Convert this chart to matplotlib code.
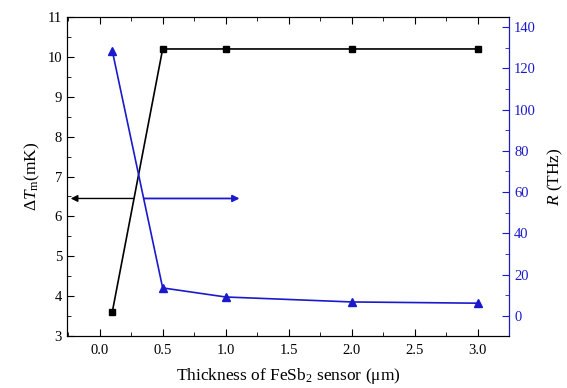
import matplotlib
matplotlib.use("Agg")
import matplotlib.pyplot as plt
from matplotlib.ticker import MultipleLocator

plt.rcParams['font.family'] = ['Liberation Serif', 'DejaVu Serif']
plt.rcParams['mathtext.fontset'] = 'custom'
plt.rcParams['mathtext.rm'] = 'Liberation Serif'
plt.rcParams['mathtext.it'] = 'Liberation Serif:italic'

# data
thickness = [0.1, 0.5, 1.0, 2.0, 3.0]
delta_t = [3.6, 10.2, 10.2, 10.2, 10.2]
r_thz = [128.5, 13.6, 9.2, 6.8, 6.2]
blue = '#1a1acc'

fig = plt.figure(figsize=(5.67, 3.88), dpi=100)
ax = fig.add_axes([0.118, 0.134, 0.78, 0.822])
ax2 = ax.twinx()

ax.plot(thickness, delta_t, color='black', marker='s', ms=4.5, lw=1.2)
ax2.plot(thickness, r_thz, color=blue, marker='^', ms=5.5, lw=1.2)

ax.set_xlim(-0.26, 3.25)
ax.set_ylim(3, 11)
ax2.set_ylim(-9.7, 144.8)

ax.xaxis.set_major_locator(MultipleLocator(0.5))
ax.xaxis.set_minor_locator(MultipleLocator(0.25))
ax.yaxis.set_major_locator(MultipleLocator(1))
ax.yaxis.set_minor_locator(MultipleLocator(0.5))
ax2.yaxis.set_major_locator(MultipleLocator(20))
ax2.yaxis.set_minor_locator(MultipleLocator(10))
ax.xaxis.set_major_formatter(matplotlib.ticker.FormatStrFormatter('%.1f'))

ax.tick_params(axis='x', which='both', direction='in', top=True, labelsize=10.5, pad=6)
ax.tick_params(axis='y', which='both', direction='in', right=False, labelsize=10.5)
ax.tick_params(which='major', length=5)
ax.tick_params(which='minor', length=3)
ax2.tick_params(axis='y', which='both', direction='in', colors=blue, labelsize=10.5)
ax2.tick_params(which='major', length=5)
ax2.tick_params(which='minor', length=3)
ax2.spines['right'].set_color(blue)

ax.set_xlabel('Thickness of FeSb$_2$ sensor (μm)', fontsize=12.5, labelpad=6)
ax.set_ylabel(r'$\Delta\mathit{T}_\mathrm{m}$(mK)', fontsize=12.5)
ax2.set_ylabel(r'$\mathit{R}$ (THz)', fontsize=12.5, labelpad=7)

# direction arrows
ax.annotate('', xy=(-0.23, 6.45), xytext=(0.27, 6.45),
            arrowprops=dict(arrowstyle='-|>', color='black', lw=1.0,
                            mutation_scale=10, shrinkA=0, shrinkB=0))
ax.annotate('', xy=(1.11, 6.45), xytext=(0.35, 6.45),
            arrowprops=dict(arrowstyle='-|>', color=blue, lw=1.3,
                            mutation_scale=10, shrinkA=0, shrinkB=0))

fig.savefig('out.png', dpi=100)
